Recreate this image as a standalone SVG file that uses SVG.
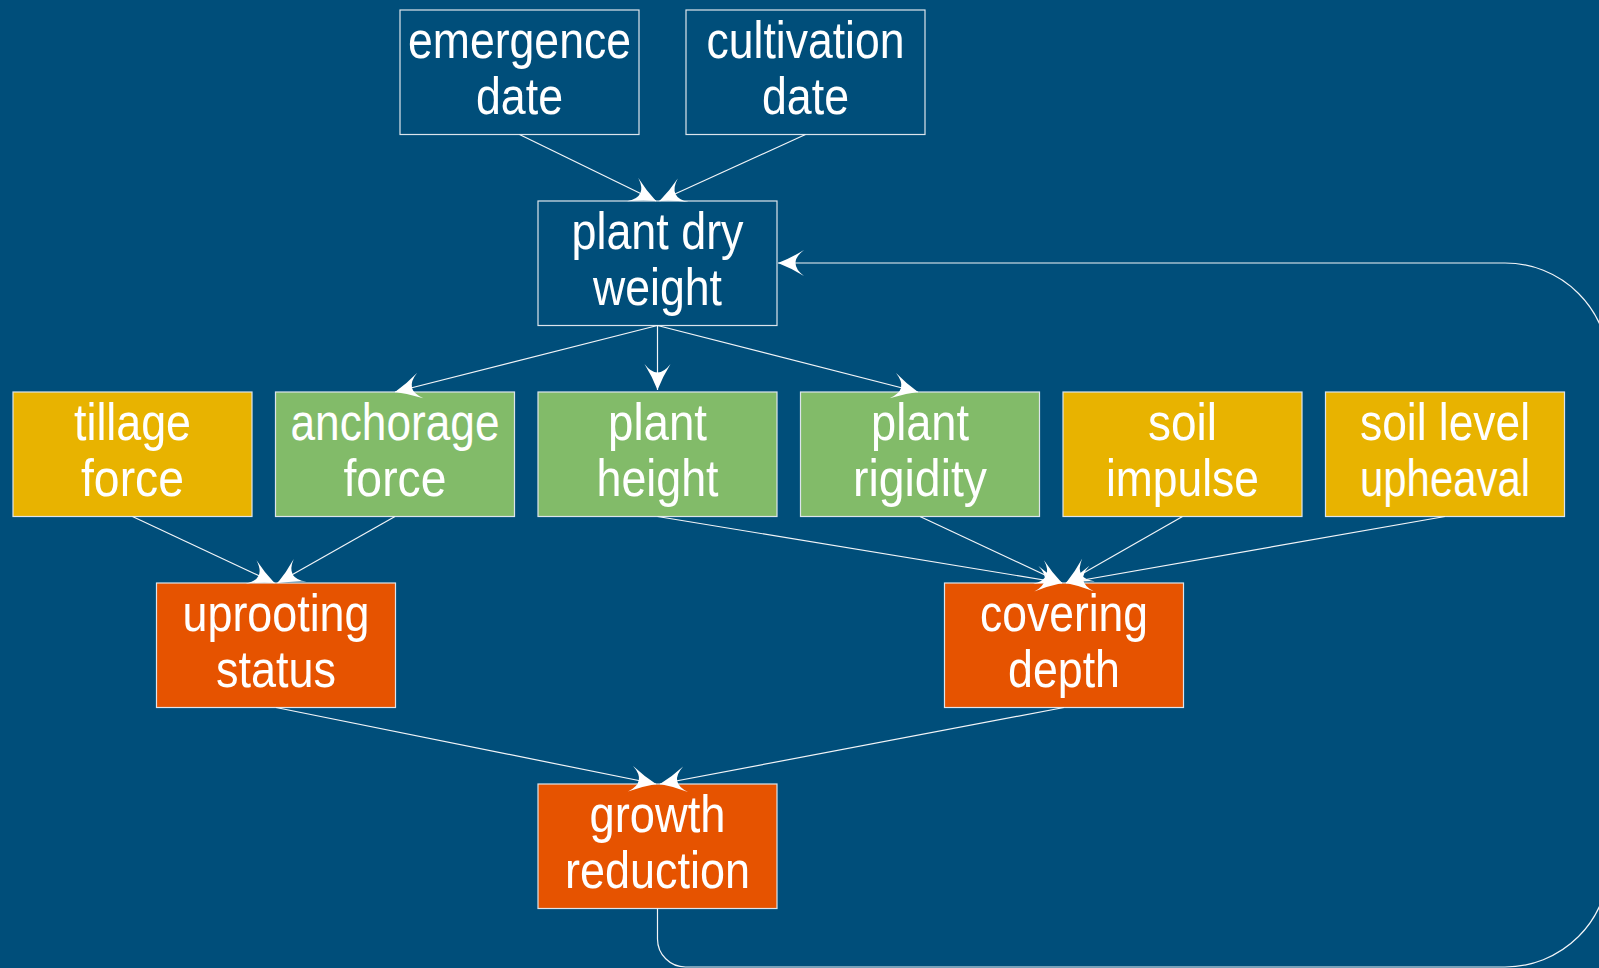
<svg xmlns="http://www.w3.org/2000/svg" width="1599" height="968" viewBox="0 0 1599 968">
<defs>
<style>
.bg{fill:#004E7A}
.box{stroke:#DCE4EC;stroke-width:1.2}
.blue{fill:#004E7A}
.yel{fill:#E8B300}
.grn{fill:#82BB69}
.org{fill:#E65300}
.t{font-family:"Liberation Sans",Arial,sans-serif;font-size:52px;fill:#FFFFFF;text-anchor:middle}
.c{fill:none;stroke:#F2F5F8;stroke-width:1.2}
</style>
<marker id="ah" markerUnits="userSpaceOnUse" markerWidth="30" markerHeight="30" refX="26" refY="13" orient="auto" overflow="visible">
<path d="M26,13 Q13,8 0,0 Q17,13 0,26 Q13,18 26,13 Z" fill="#FFFFFF"/>
</marker>
</defs>
<rect class="bg" x="0" y="0" width="1599" height="968"/>
<g id="n-emergence"><rect class="box blue" x="400" y="10" width="239" height="124.5"/><text class="t" x="519.5" y="58" textLength="223" lengthAdjust="spacingAndGlyphs">emergence</text><text class="t" x="519.5" y="114" textLength="87" lengthAdjust="spacingAndGlyphs">date</text></g>
<g id="n-cultivation"><rect class="box blue" x="686" y="10" width="239" height="124.5"/><text class="t" x="805.5" y="58" textLength="198" lengthAdjust="spacingAndGlyphs">cultivation</text><text class="t" x="805.5" y="114" textLength="87" lengthAdjust="spacingAndGlyphs">date</text></g>
<g id="n-drywt"><rect class="box blue" x="538" y="201" width="239" height="124.5"/><text class="t" x="657.5" y="249" textLength="172" lengthAdjust="spacingAndGlyphs">plant dry</text><text class="t" x="657.5" y="305" textLength="129" lengthAdjust="spacingAndGlyphs">weight</text></g>
<g id="n-tillage"><rect class="box yel" x="13" y="392" width="239" height="124.5"/><text class="t" x="132.5" y="440" textLength="117" lengthAdjust="spacingAndGlyphs">tillage</text><text class="t" x="132.5" y="496" textLength="103" lengthAdjust="spacingAndGlyphs">force</text></g>
<g id="n-anchorage"><rect class="box grn" x="275.5" y="392" width="239" height="124.5"/><text class="t" x="395" y="440" textLength="209" lengthAdjust="spacingAndGlyphs">anchorage</text><text class="t" x="395" y="496" textLength="103" lengthAdjust="spacingAndGlyphs">force</text></g>
<g id="n-height"><rect class="box grn" x="538" y="392" width="239" height="124.5"/><text class="t" x="657.5" y="440" textLength="99" lengthAdjust="spacingAndGlyphs">plant</text><text class="t" x="657.5" y="496" textLength="122" lengthAdjust="spacingAndGlyphs">height</text></g>
<g id="n-rigidity"><rect class="box grn" x="800.5" y="392" width="239" height="124.5"/><text class="t" x="920" y="440" textLength="98" lengthAdjust="spacingAndGlyphs">plant</text><text class="t" x="920" y="496" textLength="134" lengthAdjust="spacingAndGlyphs">rigidity</text></g>
<g id="n-impulse"><rect class="box yel" x="1063" y="392" width="239" height="124.5"/><text class="t" x="1182.5" y="440" textLength="69" lengthAdjust="spacingAndGlyphs">soil</text><text class="t" x="1182.5" y="496" textLength="153" lengthAdjust="spacingAndGlyphs">impulse</text></g>
<g id="n-upheaval"><rect class="box yel" x="1325.5" y="392" width="239" height="124.5"/><text class="t" x="1445" y="440" textLength="170" lengthAdjust="spacingAndGlyphs">soil level</text><text class="t" x="1445" y="496" textLength="170" lengthAdjust="spacingAndGlyphs">upheaval</text></g>
<g id="n-uprooting"><rect class="box org" x="156.5" y="583" width="239" height="124.5"/><text class="t" x="276" y="631" textLength="187" lengthAdjust="spacingAndGlyphs">uprooting</text><text class="t" x="276" y="687" textLength="120" lengthAdjust="spacingAndGlyphs">status</text></g>
<g id="n-covering"><rect class="box org" x="944.5" y="583" width="239" height="124.5"/><text class="t" x="1064" y="631" textLength="168" lengthAdjust="spacingAndGlyphs">covering</text><text class="t" x="1064" y="687" textLength="112" lengthAdjust="spacingAndGlyphs">depth</text></g>
<g id="n-growth"><rect class="box org" x="538" y="784" width="239" height="124.5"/><text class="t" x="657.5" y="832" textLength="136" lengthAdjust="spacingAndGlyphs">growth</text><text class="t" x="657.5" y="888" textLength="185" lengthAdjust="spacingAndGlyphs">reduction</text></g>
<g id="connectors">
<path class="c" marker-end="url(#ah)" d="M519.5,134.5 L656,201"/>
<path class="c" marker-end="url(#ah)" d="M805.5,134.5 L659.5,201"/>
<path class="c" marker-end="url(#ah)" d="M657.5,325.5 L395,392"/>
<path class="c" marker-end="url(#ah)" d="M657.5,325.5 L657.5,390"/>
<path class="c" marker-end="url(#ah)" d="M657.5,325.5 L918,392"/>
<path class="c" marker-end="url(#ah)" d="M132.5,516.5 L274.5,583"/>
<path class="c" marker-end="url(#ah)" d="M395,516.5 L277.5,583"/>
<path class="c" marker-end="url(#ah)" d="M657.5,516.5 L1062,583"/>
<path class="c" marker-end="url(#ah)" d="M920,516.5 L1062,583"/>
<path class="c" marker-end="url(#ah)" d="M1182.5,516.5 L1066,583"/>
<path class="c" marker-end="url(#ah)" d="M1445,516.5 L1066,583"/>
<path class="c" marker-end="url(#ah)" d="M276,707.5 L656,784"/>
<path class="c" marker-end="url(#ah)" d="M1064,707.5 L660,784"/>
<path class="c" marker-end="url(#ah)" d="M657.5,908.5 V939 A28,28 0 0 0 685.5,967 H1505 A104,104 0 0 0 1609,863 V367 A104,104 0 0 0 1505,263 H778"/>
</g>
</svg>
